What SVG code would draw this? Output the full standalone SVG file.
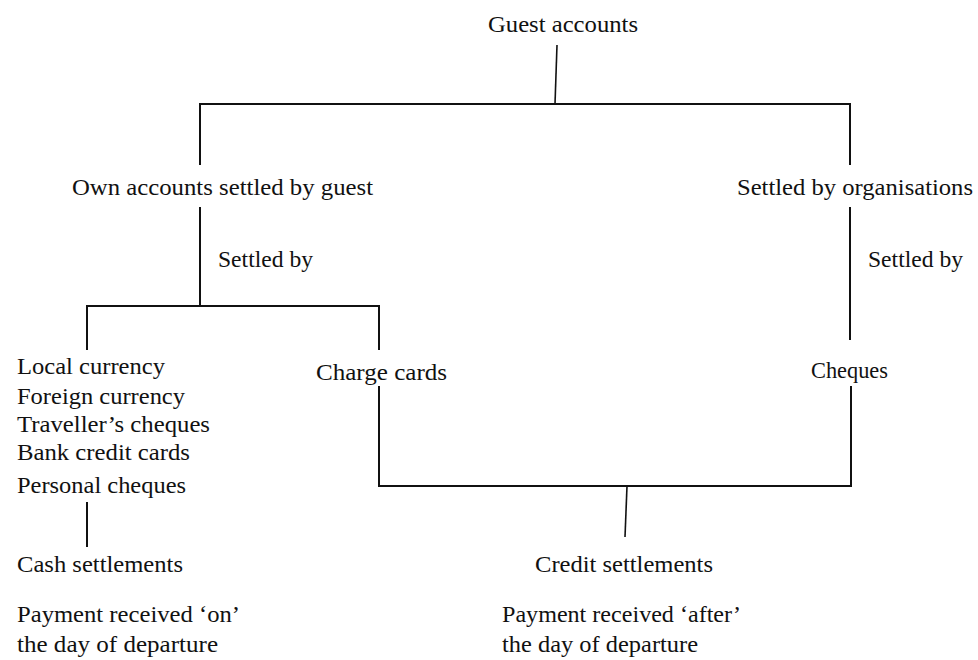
<svg xmlns="http://www.w3.org/2000/svg" width="978" height="660" viewBox="0 0 978 660">
<style>
.lbl{font-family:'Liberation Serif','DejaVu Serif',serif;font-size:24px;fill:#111}
.c{fill:none;stroke:#111;stroke-width:2;stroke-linecap:butt;stroke-linejoin:miter}
.t{stroke-width:1.6}
</style>
<rect width="978" height="660" fill="#fff"/>
<g id="connectors">
<line class="c t" x1="557" y1="45" x2="555" y2="104"/>
<polyline class="c" points="200,165 200,104 850,104 850,165"/>
<line class="c" x1="200" y1="207" x2="200" y2="306"/>
<polyline class="c" points="87,350 87,306 379,306 379,350"/>
<line class="c" x1="850" y1="207" x2="850" y2="340"/>
<polyline class="c" points="379,386 379,486 851,486 851,386"/>
<line class="c t" x1="627" y1="486" x2="625" y2="537"/>
<line class="c" x1="87" y1="502" x2="87" y2="547"/>
</g>
<g class="lbl">
<g id="guest-accounts"><text x="488" y="32" textLength="150" lengthAdjust="spacingAndGlyphs">Guest accounts</text></g>
<g id="own-accounts"><text x="72" y="195" textLength="301" lengthAdjust="spacingAndGlyphs">Own accounts settled by guest</text></g>
<g id="settled-by-organisations"><text x="737" y="195" textLength="236" lengthAdjust="spacingAndGlyphs">Settled by organisations</text></g>
<g id="settled-by-left"><text x="218" y="267" textLength="95" lengthAdjust="spacingAndGlyphs">Settled by</text></g>
<g id="settled-by-right"><text x="868" y="267" textLength="95" lengthAdjust="spacingAndGlyphs">Settled by</text></g>
<g id="cash-methods">
<text x="17" y="374" textLength="148" lengthAdjust="spacingAndGlyphs">Local currency</text>
<text x="17" y="404" textLength="168" lengthAdjust="spacingAndGlyphs">Foreign currency</text>
<text x="17" y="432" textLength="193" lengthAdjust="spacingAndGlyphs">Traveller’s cheques</text>
<text x="17" y="460" textLength="173" lengthAdjust="spacingAndGlyphs">Bank credit cards</text>
<text x="17" y="493" textLength="169" lengthAdjust="spacingAndGlyphs">Personal cheques</text>
</g>
<g id="charge-cards"><text x="316" y="380" textLength="131" lengthAdjust="spacingAndGlyphs">Charge cards</text></g>
<g id="cheques"><text x="811" y="378" textLength="77" lengthAdjust="spacingAndGlyphs">Cheques</text></g>
<g id="cash-settlements">
<text x="17" y="572" textLength="166" lengthAdjust="spacingAndGlyphs">Cash settlements</text>
<text x="17" y="622" textLength="223" lengthAdjust="spacingAndGlyphs">Payment received ‘on’</text>
<text x="17" y="652" textLength="201" lengthAdjust="spacingAndGlyphs">the day of departure</text>
</g>
<g id="credit-settlements">
<text x="535" y="572" textLength="178" lengthAdjust="spacingAndGlyphs">Credit settlements</text>
<text x="502" y="622" textLength="239" lengthAdjust="spacingAndGlyphs">Payment received ‘after’</text>
<text x="502" y="652" textLength="196" lengthAdjust="spacingAndGlyphs">the day of departure</text>
</g>
</g>
</svg>
